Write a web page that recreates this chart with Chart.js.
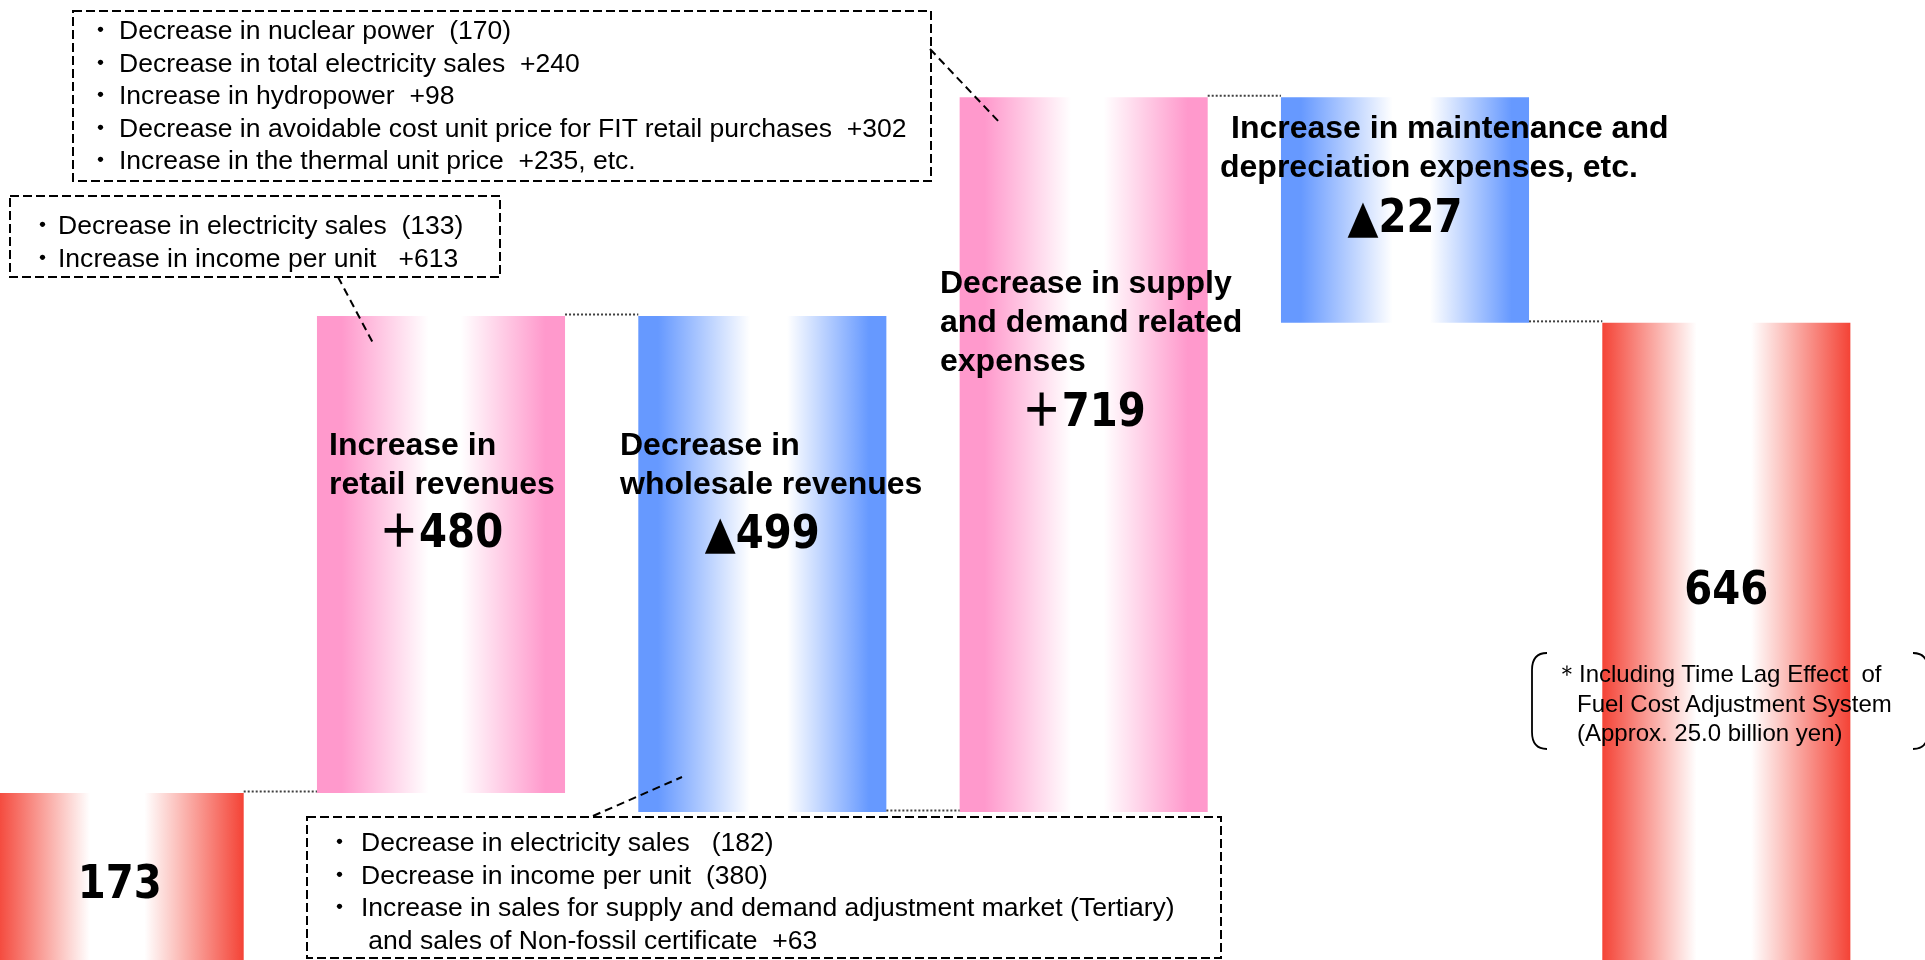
<!DOCTYPE html>
<html><head><meta charset="utf-8">
<script src="https://cdn.jsdelivr.net/npm/chart.js@4.4.1/dist/chart.umd.min.js"></script>
<style>
html,body{margin:0;padding:0;width:1925px;height:960px;overflow:hidden;background:#fff;}
#wrap{position:relative;width:1925px;height:960px;overflow:hidden;}
#c{position:absolute;left:-41px;top:0;width:1928px;height:965px;}
#ov{position:absolute;left:0;top:0;}
.t{position:absolute;font-family:"Liberation Sans",Arial,sans-serif;color:#000;white-space:pre;}
.title{font-weight:bold;font-size:32px;line-height:39px;}
.call{font-size:25.5px;line-height:32.5px;transform-origin:0 0;transform:scaleX(1.04);}
.bul{font-family:"Noto Sans CJK JP",sans-serif;font-size:25px;line-height:32.5px;}
.foot{font-size:24px;line-height:29.5px;}
</style></head>
<body><div id="wrap">
<canvas id="c" width="1928" height="965"></canvas>
<svg id="ov" width="1925" height="960" xmlns="http://www.w3.org/2000/svg">
  <g fill="none" stroke="#000" stroke-width="2" stroke-dasharray="9 4">
    <rect x="73" y="11" width="858" height="170"/>
    <rect x="10" y="196" width="490" height="81"/>
    <rect x="307" y="817" width="914" height="141"/>
  </g>
  <g fill="none" stroke="#000" stroke-width="2" stroke-dasharray="8 5">
    <line x1="930" y1="49" x2="1001" y2="124"/>
    <line x1="338" y1="277" x2="373" y2="343"/>
    <line x1="593" y1="816" x2="682" y2="777"/>
  </g>
  <g fill="none" stroke="#000" stroke-width="1.8">
    <path d="M1547 653 Q1532 653 1532 670 L1532 732 Q1532 749 1547 749"/>
    <path d="M1913 653 Q1928 653 1928 670 L1928 732 Q1928 749 1913 749"/>
  </g>
</svg>
<div id="texts"></div>
</div>
<script>
// ---- data ----
const categories = ['Previous year', 'Retail revenues', 'Wholesale revenues', 'Supply and demand related expenses', 'Maintenance and depreciation expenses', 'Current year'];
const startValue = 173;
const changes = [480, -499, 719, -227];
const endValue = 646;
const valueLabels = ['173', '\uFF0B480', '\u25B2499', '\uFF0B719', '\u25B2227', '646'];

// ---- text content ----
const box1Lines = [
  'Decrease in nuclear power  (170)',
  'Decrease in total electricity sales  +240',
  'Increase in hydropower  +98',
  'Decrease in avoidable cost unit price for FIT retail purchases  +302',
  'Increase in the thermal unit price  +235, etc.'
];
const box2Lines = [
  'Decrease in electricity sales  (133)',
  'Increase in income per unit   +613'
];
const box3Lines = [
  'Decrease in electricity sales   (182)',
  'Decrease in income per unit  (380)',
  'Increase in sales for supply and demand adjustment market (Tertiary)',
  ' and sales of Non-fossil certificate  +63'
];
const footLines = ['\uFF0AIncluding Time Lag Effect  of', 'Fuel Cost Adjustment System', '(Approx. 25.0 billion yen)'];

// ---- derived floating ranges ----
const ranges = [[0, startValue]];
const kinds = ['total'];
let run = startValue;
changes.forEach(c => {
  const next = run + c;
  ranges.push([Math.min(run, next), Math.max(run, next)]);
  kinds.push(c >= 0 ? 'up' : 'down');
  run = next;
});
ranges.push([0, endValue]);
kinds.push('total');
const levels = [startValue];
run = startValue;
changes.forEach(c => { run += c; levels.push(run); });

// ---- layout / style ----
const BAR_PCT = 0.772;
const edgeColor = {total: 'rgb(244,67,54)', up: 'rgb(255,153,204)', down: 'rgb(102,153,255)'};
const gradStops = {
  total: [[0, 1], [0.38, 0], [0.6, 0], [1, 1]],
  up: [[0, 1], [0.1, 1], [0.45, 0], [0.58, 0], [0.92, 1], [1, 1]],
  down: [[0, 1], [0.08, 1], [0.45, 0], [0.6, 0], [0.93, 1], [1, 1]]
};
const labelBaselines = [898, 547, 548, 426, 232, 604];

function gradFor(ctx) {
  const chart = ctx.chart;
  const area = chart.chartArea;
  const kind = kinds[ctx.dataIndex];
  const col = edgeColor[kind];
  if (!area) return col;
  const cx = chart.scales.x.getPixelForValue(ctx.dataIndex);
  const half = area.width / categories.length * BAR_PCT / 2;
  const g = chart.ctx.createLinearGradient(cx - half, 0, cx + half, 0);
  gradStops[kind].forEach(([p, a]) => g.addColorStop(p, a ? col : '#ffffff'));
  return g;
}

const overlay = {
  id: 'overlay',
  afterDatasetsDraw(chart) {
    const c = chart.ctx, xs = chart.scales.x, ys = chart.scales.y;
    const half = chart.chartArea.width / categories.length * BAR_PCT / 2;
    c.save();
    c.strokeStyle = '#404040';
    c.lineWidth = 2;
    c.setLineDash([2, 2]);
    levels.forEach((lv, i) => {
      const y = ys.getPixelForValue(lv) - 1.5;
      c.beginPath();
      c.moveTo(xs.getPixelForValue(i) + half, y);
      c.lineTo(xs.getPixelForValue(i + 1) - half, y);
      c.stroke();
    });
    c.restore();
    c.save();
    c.fillStyle = '#000';
    c.font = 'bold 46px "DejaVu Sans", "Noto Sans CJK JP"';
    c.textAlign = 'center';
    c.textBaseline = 'alphabetic';
    valueLabels.forEach((t, i) => {
      c.save();
      c.translate(xs.getPixelForValue(i), labelBaselines[i]);
      c.scale(0.875, 1);
      c.fillText(t, 0, 0);
      c.restore();
    });
    c.restore();
  }
};

new Chart(document.getElementById('c'), {
  type: 'bar',
  data: {
    labels: categories,
    datasets: [{
      data: ranges,
      backgroundColor: gradFor,
      borderWidth: 0,
      barPercentage: BAR_PCT,
      categoryPercentage: 1
    }]
  },
  options: {
    responsive: false,
    animation: false,
    devicePixelRatio: 1,
    layout: {padding: 0},
    plugins: {legend: {display: false}, tooltip: {enabled: false}},
    scales: {
      x: {display: false},
      y: {display: false, min: 0, max: 970.8}
    }
  },
  plugins: [overlay]
});

// ---- HTML text ----
const T = document.getElementById('texts');
function add(cls, left, top, text) {
  const d = document.createElement('div');
  d.className = 't ' + cls;
  d.style.left = left + 'px';
  d.style.top = top + 'px';
  d.textContent = text;
  T.appendChild(d);
  return d;
}
function callBox(lines, bulletX, textX, top, noBulletLast) {
  lines.forEach((s, i) => {
    const y = top + i * 32.5;
    if (!(noBulletLast && i === lines.length - 1)) add('bul', bulletX, y - 2, '\u30FB');
    add('call', textX, y, s);
  });
}
callBox(box1Lines, 88, 119, 14, false);
callBox(box2Lines, 30, 58, 209, false);
callBox(box3Lines, 327, 361, 826, true);

add('title', 329, 425, 'Increase in\nretail revenues');
add('title', 620, 425, 'Decrease in\nwholesale revenues');
add('title', 940, 263, 'Decrease in supply\nand demand related\nexpenses');
add('title', 1231, 108, 'Increase in maintenance and');
add('title', 1220, 147, 'depreciation expenses, etc.');

add('foot', 1555, 659, footLines[0]);
add('foot', 1577, 688.5, footLines[1]);
add('foot', 1577, 718, footLines[2]);
</script>
</body></html>
